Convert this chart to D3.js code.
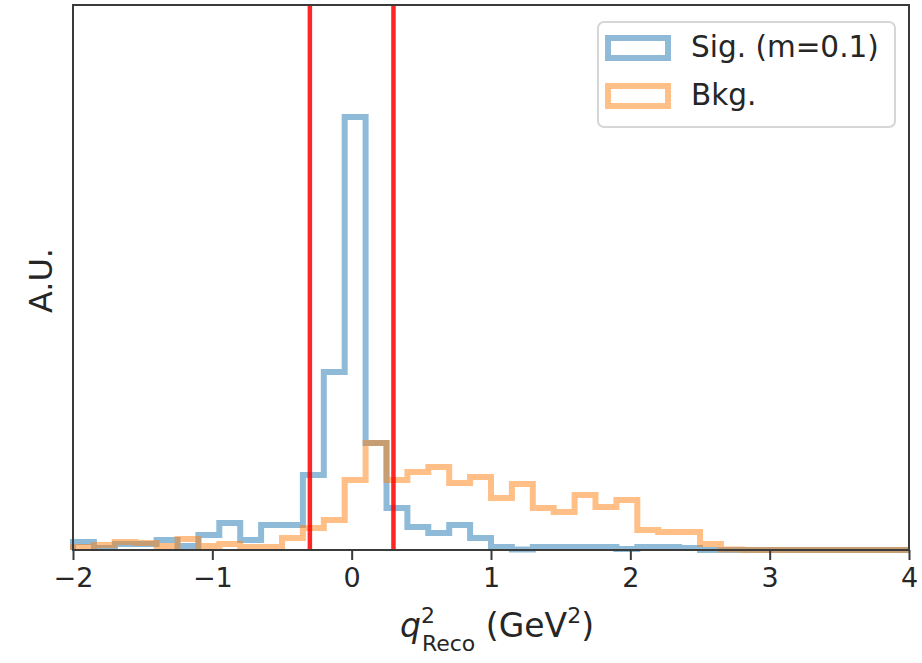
<!DOCTYPE html>
<html>
<head>
<meta charset="utf-8">
<script src="https://cdn.jsdelivr.net/npm/d3@7"></script>
<style>
  body { margin: 0; background: #fff; }
  text { font-family: "DejaVu Sans", sans-serif; }
</style>
</head>
<body>
<div id="chart"></div>
<script>
// histogram bins: 40 bins from -2 to 4
const binStart = -2;
const binWidth = 0.15;
const xTicks = [-2, -1, 0, 1, 2, 3, 4];
const cutLines = [-0.3, 0.3];

// heights (arbitrary units)
const sigValues = [8, 2, 6, 6, 10, 4, 15, 27, 10, 25,
                   25, 75, 178, 433, 107, 42, 23, 17, 25, 12,
                   3, 0.5, 3, 3, 3, 3, 1, 3, 3, 2,
                   0, 0, 0, 0, 0, 0, 0, 0, 0, 0];
const bkgValues = [3, 5, 8, 7, 4, 11, 4, 6, 3, 3,
                   12, 22, 30, 70, 107, 70, 78, 83, 67, 73,
                   52, 66, 42, 38, 55, 43, 50, 20, 18, 18,
                   6, 0.5, 0, 0, 0, 0, 0, 0, 0, 0];
const seriesNames = ["Sig. (m=0.1)", "Bkg."];
const colors = ["#1f77b4", "#ff7f0e"];

const W = 922, H = 663;
const margin = {top: 5, right: 13, bottom: 113, left: 73};
const width = W - margin.left - margin.right;
const height = H - margin.top - margin.bottom;

const svg = d3.select("#chart").append("svg")
    .attr("width", W)
    .attr("height", H);

const g = svg.append("g")
    .attr("transform", "translate(" + margin.left + "," + margin.top + ")");

const x = d3.scaleLinear().domain([-2, 4]).range([0, width]);
const y = d3.scaleLinear().domain([0, 545]).range([height, 0]);

// step outline like histtype='step'
function stepPoints(vals) {
  const pts = [[binStart, 0]];
  vals.forEach(function(v, i) {
    pts.push([binStart + i * binWidth, v]);
    pts.push([binStart + (i + 1) * binWidth, v]);
  });
  pts.push([binStart + vals.length * binWidth, 0]);
  return pts;
}

const line = d3.line()
    .x(function(d) { return x(d[0]); })
    .y(function(d) { return y(d[1]); });

[sigValues, bkgValues].forEach(function(vals, i) {
  g.append("path")
    .attr("d", line(stepPoints(vals)))
    .attr("fill", "none")
    .attr("stroke", colors[i])
    .attr("stroke-opacity", 0.5)
    .attr("stroke-width", 6)
    .attr("stroke-linejoin", "miter");
});

// cut lines
g.selectAll(".cut")
  .data(cutLines)
  .enter().append("line")
    .attr("class", "cut")
    .attr("x1", function(d) { return x(d); })
    .attr("x2", function(d) { return x(d); })
    .attr("y1", 0)
    .attr("y2", height)
    .attr("stroke", "#ff0000")
    .attr("stroke-opacity", 0.85)
    .attr("stroke-width", 4.5);

// frame
g.append("rect")
  .attr("width", width)
  .attr("height", height)
  .attr("fill", "none")
  .attr("stroke", "#3a3a3a")
  .attr("stroke-width", 2);

// x axis
const xAxis = g.append("g")
  .attr("transform", "translate(0," + height + ")")
  .call(d3.axisBottom(x).tickValues(xTicks).tickFormat(d3.format("d"))
        .tickSize(10).tickPadding(8));
xAxis.select(".domain").remove();
xAxis.selectAll(".tick line").attr("stroke", "#3a3a3a").attr("stroke-width", 2);
xAxis.selectAll(".tick text")
  .attr("font-size", 27)
  .attr("font-family", "DejaVu Sans")
  .attr("fill", "#262626");

// x label
const xl = svg.append("text")
  .attr("x", 497)
  .attr("y", 637)
  .attr("text-anchor", "middle")
  .attr("font-size", 33)
  .attr("fill", "#262626");
xl.append("tspan").attr("font-style", "italic").text("q");
xl.append("tspan").attr("font-size", 22).attr("dy", -14).text("2");
xl.append("tspan").attr("font-size", 22).attr("dx", -13).attr("dy", 28).text("Reco");
xl.append("tspan").attr("dy", -14).text(" (GeV");
xl.append("tspan").attr("font-size", 22).attr("dy", -14).text("2");
xl.append("tspan").attr("dy", 14).text(")");

// y label
svg.append("text")
  .attr("transform", "translate(52," + (margin.top + height / 2 + 3) + ") rotate(-90)")
  .attr("text-anchor", "middle")
  .attr("font-size", 32)
  .attr("fill", "#262626")
  .text("A.U.");

// legend
const legend = svg.append("g");
legend.append("rect")
  .attr("x", 598).attr("y", 22)
  .attr("width", 297).attr("height", 105)
  .attr("rx", 6)
  .attr("fill", "#fff")
  .attr("fill-opacity", 0.8)
  .attr("stroke", "#d6d6d6")
  .attr("stroke-width", 2);

const items = legend.selectAll(".item")
  .data(seriesNames)
  .enter().append("g")
  .attr("transform", function(d, i) { return "translate(0," + (i * 48) + ")"; });

items.append("rect")
  .attr("x", 608).attr("y", 38)
  .attr("width", 60).attr("height", 20)
  .attr("fill", "none")
  .attr("stroke", function(d, i) { return colors[i]; })
  .attr("stroke-opacity", 0.5)
  .attr("stroke-width", 6);

items.append("text")
  .attr("x", 691).attr("y", 57)
  .attr("font-size", 29.5)
  .attr("fill", "#262626")
  .text(function(d) { return d; });
</script>
</body>
</html>
